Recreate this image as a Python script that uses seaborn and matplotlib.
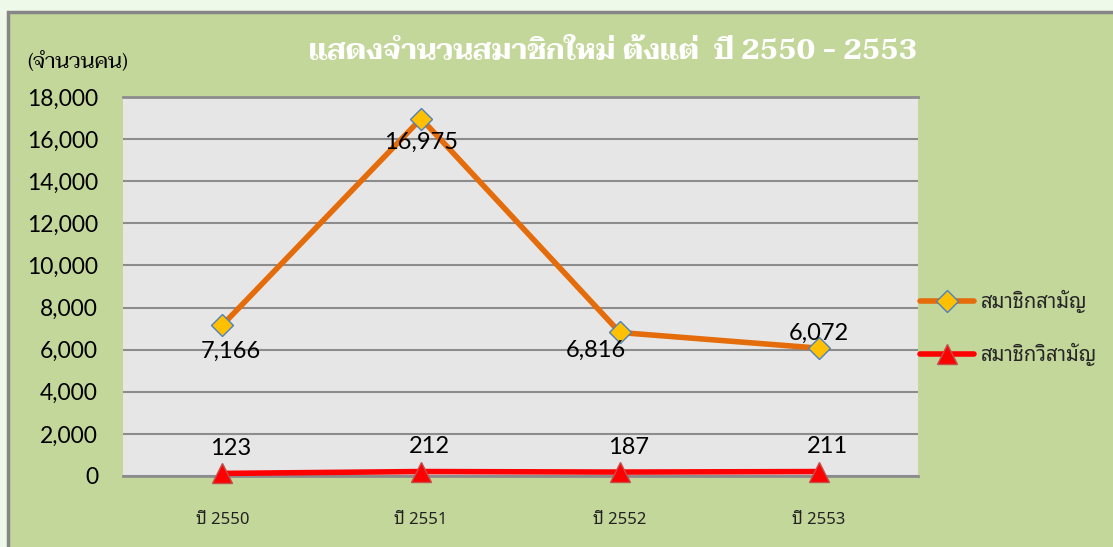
import matplotlib
matplotlib.use("Agg")
import matplotlib.pyplot as plt
from matplotlib.patches import Rectangle
import seaborn as sns
import pandas as pd

years = ["ปี 2550", "ปี 2551", "ปี 2552", "ปี 2553"]
ordinary = [7166, 16975, 6816, 6072]
associate = [123, 212, 187, 211]
series_names = ["สมาชิกสามัญ", "สมาชิกวิสามัญ"]
title = "แสดงจำนวนสมาชิกใหม่ ตั้งแต่  ปี 2550 - 2553"
unit_label = "(จำนวนคน)"
yticks = list(range(0, 18001, 2000))

sns.set_theme(style="white")
plt.rcParams['font.family'] = ['Lato', 'Noto Sans Thai', 'DejaVu Sans']

W, H = 1113, 547
fig = plt.figure(figsize=(W / 100, H / 100), dpi=100)
fig.patch.set_facecolor('#EEF9EA')
fig.patches.append(Rectangle((8 / W, -0.1), 1.2, 1.1 - 12 / H, transform=fig.transFigure,
                             facecolor='#C4D79B', edgecolor='#868686', lw=2.5, zorder=-5))

ax = fig.add_axes([123 / W, 1 - 476 / H, (918 - 123) / W, (476 - 97) / H])
ax.set_facecolor('#E6E6E6')

df = pd.DataFrame({"year": years * 2,
                   "value": ordinary + associate,
                   "series": [series_names[0]] * 4 + [series_names[1]] * 4})

sns.lineplot(data=df[df.series == series_names[0]], x="year", y="value", ax=ax,
             color='#E46C0A', lw=4, marker='D', markersize=11,
             markerfacecolor='#FFC000', markeredgecolor='#4F81BD', markeredgewidth=1,
             label=series_names[0], clip_on=False, zorder=4)
sns.lineplot(data=df[df.series == series_names[1]], x="year", y="value", ax=ax,
             color='#FF0000', lw=4, marker='^', markersize=15,
             markerfacecolor='#FF0000', markeredgecolor='#C0504D', markeredgewidth=1,
             label=series_names[1], clip_on=False, zorder=4)

ax.set_xlim(-0.5, 3.5)
ax.set_ylim(0, 18000)
ax.set_yticks(yticks)
ax.set_yticklabels([f"{v:,}" for v in yticks])
ax.yaxis.grid(True, color='#8C8C8C', lw=1.5)
ax.set_axisbelow(True)
ax.set_xlabel("")
ax.set_ylabel("")
for s in ['left', 'right']:
    ax.spines[s].set_visible(False)
for s in ['top', 'bottom']:
    ax.spines[s].set_color('#8C8C8C')
    ax.spines[s].set_linewidth(2)
ax.tick_params(axis='y', length=0, pad=18, labelsize=16.5, labelcolor='black')
ax.tick_params(axis='x', length=0, pad=26, labelsize=12, labelcolor='#222222')
for lbl in ax.get_xticklabels():
    lbl.set_fontfamily(['Noto Sans Thai Looped', 'DejaVu Sans'])
    lbl.set_fontstretch('condensed')

# data labels
offs1 = [(6, -19), (0, -17), (-17, -13), (0, 11)]
for i, v in enumerate(ordinary):
    ax.annotate(f"{v:,}", (i, v), xytext=offs1[i], textcoords='offset points',
                ha='center', va='center', fontsize=17, color='black', zorder=6)
for i, v in enumerate(associate):
    ax.annotate(f"{v:,}", (i, v), xytext=(6, 18), textcoords='offset points',
                ha='center', va='center', fontsize=17, color='black', zorder=6)

ax.legend_.remove()
handles, labels = ax.get_legend_handles_labels()
leg = fig.legend(handles, labels, loc='center left', bbox_to_anchor=(912 / W, 1 - 328 / H),
                 frameon=False, handlelength=2.7, labelspacing=1.45, handletextpad=0.3,
                 borderaxespad=0.0,
                 prop={'family': ['Noto Sans Thai Looped', 'DejaVu Sans'], 'size': 14.5})

fig.text(613 / W, 1 - 52 / H, title, ha='center', va='center', color='white',
         fontsize=20.5, fontweight='bold', family=['Taviraj', 'DejaVu Serif'])
fig.text(27 / W, 1 - 62 / H, unit_label, ha='left', va='center', color='black',
         fontsize=15.5, family=['Taviraj', 'DejaVu Serif'])

fig.savefig("out.png", dpi=100, facecolor=fig.get_facecolor())
